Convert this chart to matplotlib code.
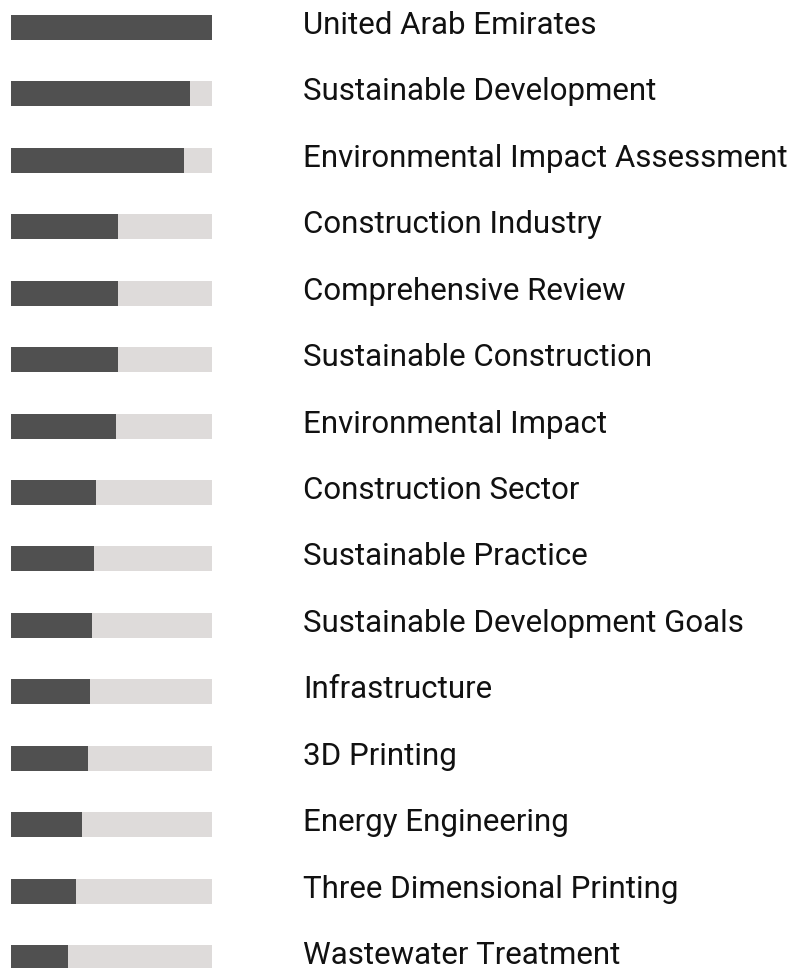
import matplotlib.pyplot as plt
import matplotlib.transforms as mtransforms
import numpy as np

# keyword labels, top to bottom
labels = [
    "United Arab Emirates",
    "Sustainable Development",
    "Environmental Impact Assessment",
    "Construction Industry",
    "Comprehensive Review",
    "Sustainable Construction",
    "Environmental Impact",
    "Construction Sector",
    "Sustainable Practice",
    "Sustainable Development Goals",
    "Infrastructure",
    "3D Printing",
    "Energy Engineering",
    "Three Dimensional Printing",
    "Wastewater Treatment",
]
# relative share of the top keyword
shares = [1.00, 0.89, 0.86, 0.532, 0.532, 0.532, 0.522, 0.423, 0.413,
          0.403, 0.393, 0.383, 0.353, 0.323, 0.284]

dark = "#505050"
light = "#dedbda"

fig = plt.figure(figsize=(8.08, 9.68), dpi=100)
ax = fig.add_axes([11 / 808, 0, 201 / 808, 1])

y = np.arange(len(labels))
ax.barh(y, [1.0] * len(labels), height=25 / 66.43, color=light, linewidth=0)
ax.barh(y, shares, height=25 / 66.43, color=dark, linewidth=0)

ax.set_xlim(0, 1)
ax.set_ylim(14 + 10.5 / 66.43, -27.5 / 66.43)
ax.axis("off")

trans = mtransforms.blended_transform_factory(fig.transFigure, ax.transData)
for yi, lab in zip(y, labels):
    ax.text(303 / 808, yi - 0.03, lab, transform=trans, va="center", ha="left",
            fontsize=22.5, family="Roboto", color="#111111", clip_on=False)

fig.savefig("out.png", dpi=100)
